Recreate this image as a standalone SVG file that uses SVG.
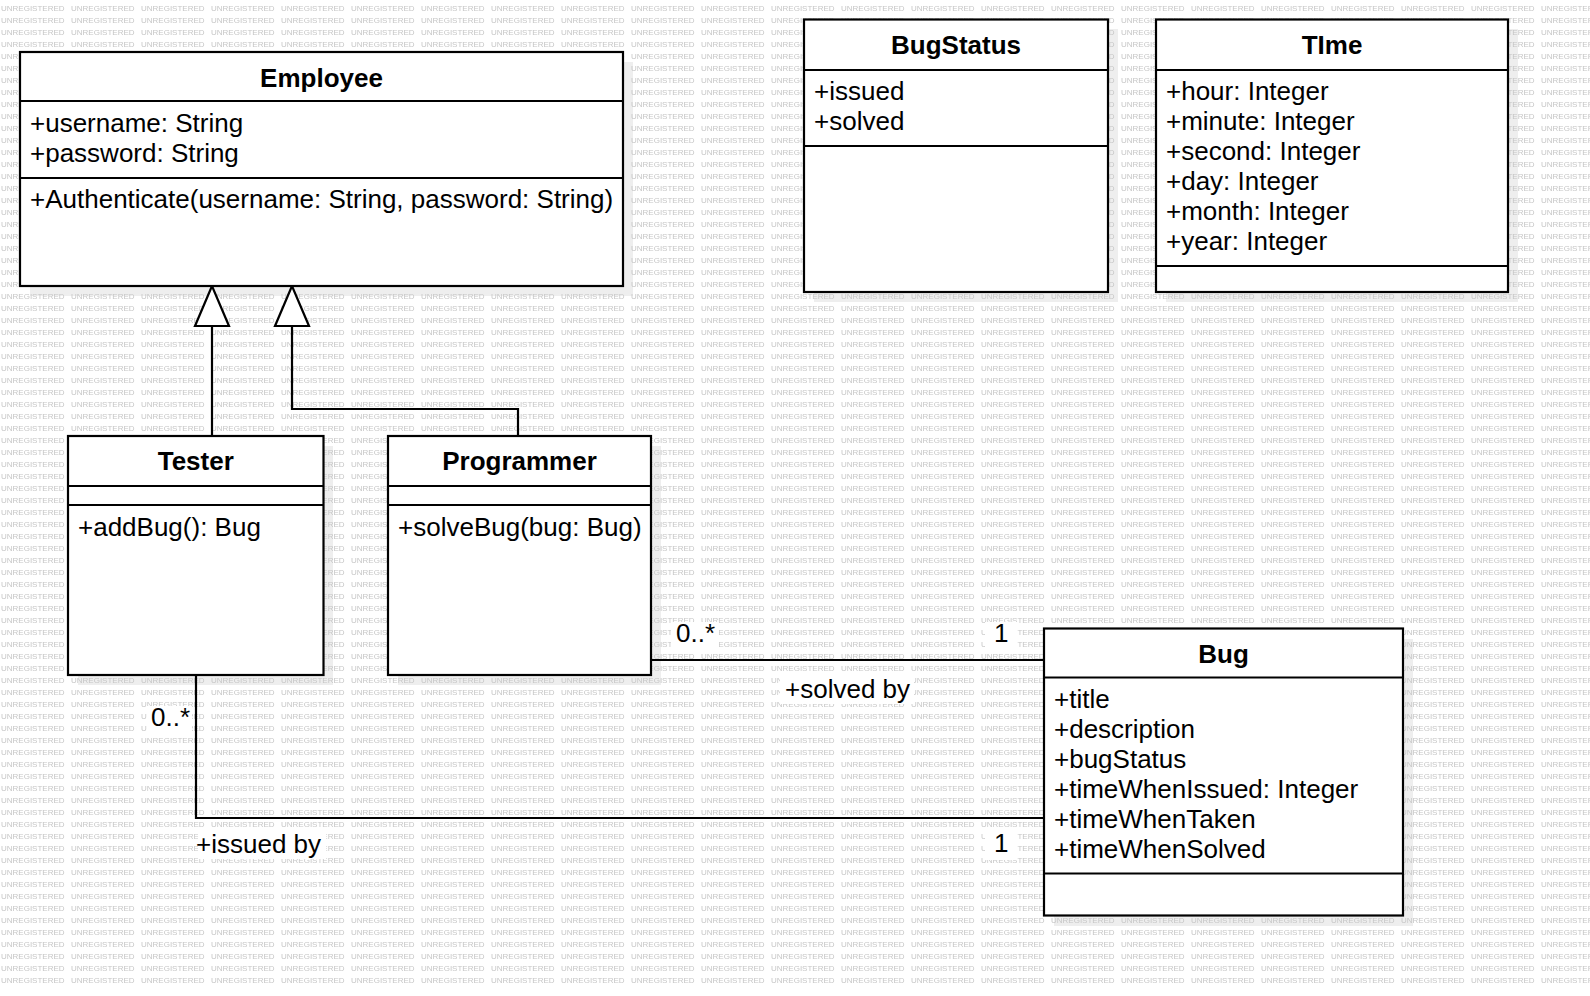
<svg xmlns="http://www.w3.org/2000/svg" width="1590" height="996" viewBox="0 0 1590 996">
<style>
.box{fill:#ffffff;stroke:#000000;stroke-width:2.2}
.div{stroke:#000000;stroke-width:2.2}
.shadow{fill:#eeeeee}
.t{font-family:"Liberation Sans",Arial,sans-serif;font-size:26px;fill:#000000}
.b{font-weight:bold;text-anchor:middle}
.wm{font-family:"Liberation Sans",Arial,sans-serif;font-size:8px;fill:#c6c6c6}
.ln{fill:none;stroke:#000000;stroke-width:2.2}
.tri{fill:#ffffff;stroke:#000000;stroke-width:2.2}
.lbg{fill:#ffffff}
</style>
<defs>
<pattern id="wmp" x="0" y="0" width="70" height="12" patternUnits="userSpaceOnUse">
<text class="wm" x="1" y="10.5">UNREGISTERED</text>
</pattern>
</defs>
<rect x="0" y="0" width="1590" height="996" fill="#ffffff"/>
<g id="shadows">
<rect class="shadow" x="30" y="62" width="603" height="234"/>
<rect class="shadow" x="814" y="29" width="304" height="273"/>
<rect class="shadow" x="1166" y="29" width="352" height="273"/>
<rect class="shadow" x="78" y="446" width="255" height="239"/>
<rect class="shadow" x="398" y="446" width="263" height="239"/>
<rect class="shadow" x="1054" y="639" width="359" height="287"/>
</g>
<rect x="0" y="0" width="1590" height="986" fill="url(#wmp)"/>
<g id="label-backgrounds">
<rect class="lbg" x="671" y="622" width="48" height="26"/>
<rect class="lbg" x="985" y="622" width="32" height="28"/>
<rect class="lbg" x="780" y="677" width="134" height="27"/>
<rect class="lbg" x="147" y="706" width="45" height="26"/>
<rect class="lbg" x="198" y="832" width="128" height="27"/>
<rect class="lbg" x="985" y="832" width="32" height="28"/>
</g>
<g id="connectors">
<polyline class="ln" points="212,436 212,326"/>
<polygon class="tri" points="212,286 195,326 229,326"/>
<polyline class="ln" points="518,436 518,409 292,409 292,326"/>
<polygon class="tri" points="292,286 275,326 309,326"/>
<polyline class="ln" points="651,660 1044,660"/>
<polyline class="ln" points="196,675 196,818 1044,818"/>
<text class="t" x="676" y="642">0..*</text>
<text class="t" x="994" y="642">1</text>
<text class="t" x="785" y="698">+solved by</text>
<text class="t" x="151" y="726">0..*</text>
<text class="t" x="196" y="853">+issued by</text>
<text class="t" x="994" y="852">1</text>
</g>
<g id="Employee">
<rect class="box" x="20" y="52" width="603" height="234"/>
<line class="div" x1="20" y1="101" x2="623" y2="101"/>
<line class="div" x1="20" y1="178" x2="623" y2="178"/>
<text class="t b" x="321.5" y="86.5">Employee</text>
<text class="t" x="30" y="132">+username: String</text>
<text class="t" x="30" y="162">+password: String</text>
<text class="t" x="30" y="208">+Authenticate(username: String, password: String)</text>
</g>
<g id="BugStatus">
<rect class="box" x="804" y="19.5" width="304" height="272.5"/>
<line class="div" x1="804" y1="70" x2="1108" y2="70"/>
<line class="div" x1="804" y1="146" x2="1108" y2="146"/>
<text class="t b" x="956" y="54">BugStatus</text>
<text class="t" x="814" y="100">+issued</text>
<text class="t" x="814" y="130">+solved</text>
</g>
<g id="Time">
<rect class="box" x="1156" y="19.5" width="352" height="272.5"/>
<line class="div" x1="1156" y1="70" x2="1508" y2="70"/>
<line class="div" x1="1156" y1="266" x2="1508" y2="266"/>
<text class="t b" x="1332" y="54">TIme</text>
<text class="t" x="1166" y="100">+hour: Integer</text>
<text class="t" x="1166" y="130">+minute: Integer</text>
<text class="t" x="1166" y="160">+second: Integer</text>
<text class="t" x="1166" y="190">+day: Integer</text>
<text class="t" x="1166" y="220">+month: Integer</text>
<text class="t" x="1166" y="250">+year: Integer</text>
</g>
<g id="Tester">
<rect class="box" x="68" y="436" width="255.5" height="239"/>
<line class="div" x1="68" y1="486" x2="323.5" y2="486"/>
<line class="div" x1="68" y1="505" x2="323.5" y2="505"/>
<text class="t b" x="195.75" y="470">Tester</text>
<text class="t" x="78" y="536">+addBug(): Bug</text>
</g>
<g id="Programmer">
<rect class="box" x="388" y="436" width="263" height="239"/>
<line class="div" x1="388" y1="486" x2="651" y2="486"/>
<line class="div" x1="388" y1="505" x2="651" y2="505"/>
<text class="t b" x="519.5" y="470">Programmer</text>
<text class="t" x="398" y="536">+solveBug(bug: Bug)</text>
</g>
<g id="Bug">
<rect class="box" x="1044" y="628.5" width="359" height="287"/>
<line class="div" x1="1044" y1="677.5" x2="1403" y2="677.5"/>
<line class="div" x1="1044" y1="873.5" x2="1403" y2="873.5"/>
<text class="t b" x="1223.5" y="663">Bug</text>
<text class="t" x="1054" y="708">+title</text>
<text class="t" x="1054" y="738">+description</text>
<text class="t" x="1054" y="768">+bugStatus</text>
<text class="t" x="1054" y="798">+timeWhenIssued: Integer</text>
<text class="t" x="1054" y="828">+timeWhenTaken</text>
<text class="t" x="1054" y="858">+timeWhenSolved</text>
</g>
</svg>
